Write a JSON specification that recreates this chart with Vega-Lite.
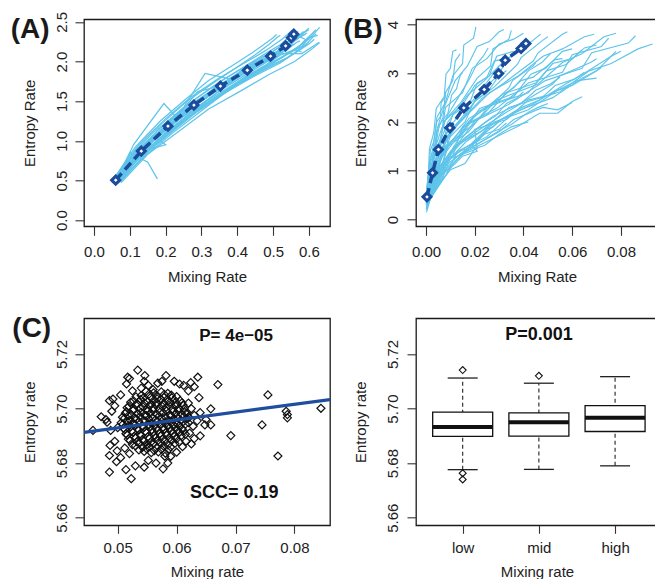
{
"$schema": "https://vega.github.io/schema/vega-lite/v6.json",
"padding": {"left": 10, "top": 10.3, "right": 0, "bottom": 0},
"config": {
 "font": "Liberation Sans",
 "view": {"stroke": "#1a1a1a", "strokeWidth": 1.3},
 "axis": {"domain": false, "grid": false, "tickSize": 9, "tickWidth": 1.1, "tickColor": "#333", "labelFontSize": 15, "labelColor": "#222", "labelPadding": 9, "labelOverlap": false, "labelFlush": false, "titleFontSize": 15, "titleFontWeight": "normal", "titleColor": "#222"},
 "axisX": {"labelAngle": 0, "labelBaseline": "top", "labelPadding": 9.4, "minExtent": 33, "maxExtent": 33, "titlePadding": 9.9},
 "axisY": {"labelAngle": -90, "labelAlign": "center", "labelBaseline": "alphabetic", "minExtent": 40, "maxExtent": 40, "titlePadding": 7}
},
"datasets": {
 "aLines": [
  {"l":1,"x":0.06,"y":0.48},{"l":1,"x":0.13,"y":0.88},{"l":1,"x":0.21,"y":1.20},{"l":1,"x":0.28,"y":1.44},{"l":1,"x":0.36,"y":1.70},{"l":1,"x":0.43,"y":1.88},{"l":1,"x":0.50,"y":2.08},{"l":1,"x":0.55,"y":2.22},{"l":1,"x":0.57,"y":2.31},{"l":1,"x":0.58,"y":2.36},
  {"l":2,"x":0.07,"y":0.52},{"l":2,"x":0.145,"y":0.86},{"l":2,"x":0.23,"y":1.17},{"l":2,"x":0.31,"y":1.46},{"l":2,"x":0.39,"y":1.68},{"l":2,"x":0.47,"y":1.90},{"l":2,"x":0.54,"y":2.05},{"l":2,"x":0.59,"y":2.20},{"l":2,"x":0.61,"y":2.30},{"l":2,"x":0.62,"y":2.35},
  {"l":3,"x":0.055,"y":0.50},{"l":3,"x":0.12,"y":0.90},{"l":3,"x":0.19,"y":1.22},{"l":3,"x":0.26,"y":1.50},{"l":3,"x":0.33,"y":1.72},{"l":3,"x":0.40,"y":1.93},{"l":3,"x":0.455,"y":2.10},{"l":3,"x":0.49,"y":2.22},{"l":3,"x":0.51,"y":2.30},{"l":3,"x":0.52,"y":2.33},
  {"l":4,"x":0.065,"y":0.46},{"l":4,"x":0.14,"y":0.80},{"l":4,"x":0.22,"y":1.10},{"l":4,"x":0.30,"y":1.38},{"l":4,"x":0.37,"y":1.62},{"l":4,"x":0.45,"y":1.82},{"l":4,"x":0.52,"y":1.98},{"l":4,"x":0.565,"y":2.12},{"l":4,"x":0.585,"y":2.20},{"l":4,"x":0.60,"y":2.25},
  {"l":5,"x":0.06,"y":0.55},{"l":5,"x":0.125,"y":0.95},{"l":5,"x":0.20,"y":1.28},{"l":5,"x":0.27,"y":1.55},{"l":5,"x":0.345,"y":1.78},{"l":5,"x":0.42,"y":1.98},{"l":5,"x":0.48,"y":2.14},{"l":5,"x":0.525,"y":2.28},{"l":5,"x":0.545,"y":2.36},{"l":5,"x":0.555,"y":2.40},
  {"l":6,"x":0.06,"y":0.50},{"l":6,"x":0.10,"y":0.85},{"l":6,"x":0.15,"y":0.73},{"l":6,"x":0.177,"y":0.52},
  {"l":7,"x":0.075,"y":0.47},{"l":7,"x":0.15,"y":0.83},{"l":7,"x":0.24,"y":1.13},{"l":7,"x":0.32,"y":1.40},{"l":7,"x":0.41,"y":1.63},{"l":7,"x":0.49,"y":1.84},{"l":7,"x":0.56,"y":2.00},{"l":7,"x":0.60,"y":2.13},{"l":7,"x":0.62,"y":2.20},{"l":7,"x":0.63,"y":2.24},
  {"l":8,"x":0.07,"y":0.53},{"l":8,"x":0.15,"y":0.90},{"l":8,"x":0.235,"y":1.22},{"l":8,"x":0.315,"y":1.50},{"l":8,"x":0.40,"y":1.74},{"l":8,"x":0.48,"y":1.95},{"l":8,"x":0.55,"y":2.12},{"l":8,"x":0.60,"y":2.28},{"l":8,"x":0.62,"y":2.38},{"l":8,"x":0.63,"y":2.43},
  {"l":9,"x":0.06,"y":0.47},{"l":9,"x":0.125,"y":0.84},{"l":9,"x":0.195,"y":1.13},{"l":9,"x":0.265,"y":1.40},{"l":9,"x":0.34,"y":1.62},{"l":9,"x":0.41,"y":1.83},{"l":9,"x":0.47,"y":2.00},{"l":9,"x":0.51,"y":2.12},{"l":9,"x":0.53,"y":2.20},{"l":9,"x":0.535,"y":2.24},
  {"l":10,"x":0.065,"y":0.50},{"l":10,"x":0.11,"y":0.95},{"l":10,"x":0.195,"y":1.47},{"l":10,"x":0.23,"y":1.30},{"l":10,"x":0.29,"y":1.62},{"l":10,"x":0.36,"y":1.70},{"l":10,"x":0.43,"y":1.95},{"l":10,"x":0.50,"y":2.02},{"l":10,"x":0.57,"y":2.32},{"l":10,"x":0.59,"y":2.28},
  {"l":11,"x":0.06,"y":0.49},{"l":11,"x":0.13,"y":0.86},{"l":11,"x":0.20,"y":0.95},{"l":11,"x":0.17,"y":1.05},{"l":11,"x":0.28,"y":1.40},{"l":11,"x":0.36,"y":1.66},{"l":11,"x":0.44,"y":1.92},{"l":11,"x":0.51,"y":2.10},{"l":11,"x":0.58,"y":2.10},{"l":11,"x":0.628,"y":2.24},
  {"l":12,"x":0.07,"y":0.51},{"l":12,"x":0.135,"y":0.88},{"l":12,"x":0.21,"y":1.16},{"l":12,"x":0.29,"y":1.47},{"l":12,"x":0.365,"y":1.70},{"l":12,"x":0.44,"y":1.92},{"l":12,"x":0.51,"y":2.09},{"l":12,"x":0.555,"y":2.25},{"l":12,"x":0.575,"y":2.33},{"l":12,"x":0.585,"y":2.38},
  {"l":13,"x":0.055,"y":0.52},{"l":13,"x":0.115,"y":0.92},{"l":13,"x":0.185,"y":1.25},{"l":13,"x":0.255,"y":1.52},{"l":13,"x":0.32,"y":1.76},{"l":13,"x":0.39,"y":1.96},{"l":13,"x":0.445,"y":2.12},{"l":13,"x":0.485,"y":2.25},{"l":13,"x":0.50,"y":2.30},{"l":13,"x":0.51,"y":2.34},
  {"l":14,"x":0.065,"y":0.49},{"l":14,"x":0.14,"y":0.85},{"l":14,"x":0.22,"y":1.15},{"l":14,"x":0.30,"y":1.43},{"l":14,"x":0.38,"y":1.66},{"l":14,"x":0.455,"y":1.88},{"l":14,"x":0.525,"y":2.05},{"l":14,"x":0.57,"y":2.18},{"l":14,"x":0.59,"y":2.27},{"l":14,"x":0.61,"y":2.32},
  {"l":15,"x":0.06,"y":0.50},{"l":15,"x":0.13,"y":0.87},{"l":15,"x":0.205,"y":1.19},{"l":15,"x":0.285,"y":1.46},{"l":15,"x":0.36,"y":1.69},{"l":15,"x":0.435,"y":1.90},{"l":15,"x":0.50,"y":2.07},{"l":15,"x":0.545,"y":2.21},{"l":15,"x":0.565,"y":2.28},{"l":15,"x":0.60,"y":2.42},
  {"l":16,"x":0.065,"y":0.48},{"l":16,"x":0.12,"y":0.78},{"l":16,"x":0.20,"y":1.10},{"l":16,"x":0.27,"y":1.35},{"l":16,"x":0.35,"y":1.58},{"l":16,"x":0.42,"y":1.80},{"l":16,"x":0.48,"y":1.96},{"l":16,"x":0.52,"y":2.08},{"l":16,"x":0.56,"y":2.15},{"l":16,"x":0.58,"y":2.12},
  {"l":17,"x":0.05,"y":0.47},{"l":17,"x":0.12,"y":0.82},{"l":17,"x":0.18,"y":1.15},{"l":17,"x":0.25,"y":1.42},{"l":17,"x":0.31,"y":1.85},{"l":17,"x":0.38,"y":1.78},{"l":17,"x":0.44,"y":1.98},{"l":17,"x":0.49,"y":2.05},{"l":17,"x":0.53,"y":2.18},{"l":17,"x":0.56,"y":2.22},
  {"l":18,"x":0.065,"y":0.52},{"l":18,"x":0.135,"y":0.92},{"l":18,"x":0.215,"y":1.22},{"l":18,"x":0.295,"y":1.52},{"l":18,"x":0.375,"y":1.75},{"l":18,"x":0.45,"y":1.97},{"l":18,"x":0.52,"y":2.15},{"l":18,"x":0.565,"y":2.29},{"l":18,"x":0.585,"y":2.36},{"l":18,"x":0.60,"y":2.40},
  {"l":19,"x":0.055,"y":0.46},{"l":19,"x":0.125,"y":0.83},{"l":19,"x":0.20,"y":1.14},{"l":19,"x":0.275,"y":1.42},{"l":19,"x":0.35,"y":1.66},{"l":19,"x":0.425,"y":1.86},{"l":19,"x":0.49,"y":2.03},{"l":19,"x":0.53,"y":2.16},{"l":19,"x":0.55,"y":2.25},{"l":19,"x":0.56,"y":2.28},
  {"l":20,"x":0.07,"y":0.50},{"l":20,"x":0.14,"y":0.89},{"l":20,"x":0.215,"y":1.21},{"l":20,"x":0.29,"y":1.49},{"l":20,"x":0.37,"y":1.72},{"l":20,"x":0.445,"y":1.93},{"l":20,"x":0.51,"y":2.10},{"l":20,"x":0.555,"y":2.24},{"l":20,"x":0.575,"y":2.31},{"l":20,"x":0.59,"y":2.34},
  {"l":21,"x":0.06,"y":0.53},{"l":21,"x":0.12,"y":0.88},{"l":21,"x":0.19,"y":1.18},{"l":21,"x":0.265,"y":1.47},{"l":21,"x":0.34,"y":1.71},{"l":21,"x":0.415,"y":1.92},{"l":21,"x":0.475,"y":2.09},{"l":21,"x":0.52,"y":2.21},{"l":21,"x":0.54,"y":2.29},{"l":21,"x":0.55,"y":2.32},
  {"l":22,"x":0.075,"y":0.49},{"l":22,"x":0.15,"y":0.86},{"l":22,"x":0.225,"y":1.16},{"l":22,"x":0.305,"y":1.44},{"l":22,"x":0.385,"y":1.68},{"l":22,"x":0.46,"y":1.89},{"l":22,"x":0.53,"y":2.07},{"l":22,"x":0.575,"y":2.20},{"l":22,"x":0.595,"y":2.29},{"l":22,"x":0.62,"y":2.40},
  {"l":23,"x":0.065,"y":0.47},{"l":23,"x":0.13,"y":0.82},{"l":23,"x":0.205,"y":1.12},{"l":23,"x":0.28,"y":1.39},{"l":23,"x":0.355,"y":1.64},{"l":23,"x":0.43,"y":1.85},{"l":23,"x":0.495,"y":2.03},{"l":23,"x":0.54,"y":2.15},{"l":23,"x":0.565,"y":2.24},{"l":23,"x":0.575,"y":2.26},
  {"l":24,"x":0.06,"y":0.51},{"l":24,"x":0.135,"y":0.90},{"l":24,"x":0.21,"y":1.24},{"l":24,"x":0.285,"y":1.53},{"l":24,"x":0.36,"y":1.77},{"l":24,"x":0.435,"y":1.97},{"l":24,"x":0.50,"y":2.13},{"l":24,"x":0.545,"y":2.26},{"l":24,"x":0.56,"y":2.33},{"l":24,"x":0.57,"y":2.38},
  {"l":25,"x":0.07,"y":0.48},{"l":25,"x":0.145,"y":0.84},{"l":25,"x":0.225,"y":1.14},{"l":25,"x":0.30,"y":1.41},{"l":25,"x":0.38,"y":1.64},{"l":25,"x":0.46,"y":1.86},{"l":25,"x":0.53,"y":2.02},{"l":25,"x":0.58,"y":2.16},{"l":25,"x":0.60,"y":2.22},{"l":25,"x":0.615,"y":2.28},
  {"l":26,"x":0.055,"y":0.49},{"l":26,"x":0.12,"y":0.86},{"l":26,"x":0.195,"y":1.17},{"l":26,"x":0.27,"y":1.45},{"l":26,"x":0.345,"y":1.69},{"l":26,"x":0.415,"y":1.89},{"l":26,"x":0.48,"y":2.07},{"l":26,"x":0.52,"y":2.19},{"l":26,"x":0.535,"y":2.27},{"l":26,"x":0.545,"y":2.30},
  {"l":27,"x":0.065,"y":0.52},{"l":27,"x":0.13,"y":0.91},{"l":27,"x":0.21,"y":1.20},{"l":27,"x":0.285,"y":1.50},{"l":27,"x":0.365,"y":1.73},{"l":27,"x":0.44,"y":1.94},{"l":27,"x":0.505,"y":2.11},{"l":27,"x":0.55,"y":2.23},{"l":27,"x":0.57,"y":2.30},{"l":27,"x":0.595,"y":2.36},
  {"l":28,"x":0.07,"y":0.49},{"l":28,"x":0.14,"y":0.86},{"l":28,"x":0.23,"y":1.20},{"l":28,"x":0.31,"y":1.43},{"l":28,"x":0.39,"y":1.70},{"l":28,"x":0.465,"y":1.88},{"l":28,"x":0.535,"y":2.08},{"l":28,"x":0.58,"y":2.19},{"l":28,"x":0.60,"y":2.30},{"l":28,"x":0.625,"y":2.33}
 ],
 "aMean": [
  {"x":0.0605,"y":0.504},{"x":0.132,"y":0.87},{"x":0.2065,"y":1.185},{"x":0.279,"y":1.45},{"x":0.353,"y":1.69},{"x":0.428,"y":1.89},{"x":0.493,"y":2.067},{"x":0.535,"y":2.197},{"x":0.551,"y":2.30},{"x":0.558,"y":2.345}
 ],
 "bLines": [
  {"l":1,"x":0.0004,"y":0.47},{"l":1,"x":0.0031,"y":1.02},{"l":1,"x":0.0050,"y":1.42},{"l":1,"x":0.0102,"y":1.93},{"l":1,"x":0.0150,"y":2.22},{"l":1,"x":0.0245,"y":2.72},{"l":1,"x":0.0295,"y":2.95},{"l":1,"x":0.0335,"y":3.30},{"l":1,"x":0.0385,"y":3.48},{"l":1,"x":0.0415,"y":3.66},
  {"l":2,"x":0.0006,"y":0.40},{"l":2,"x":0.0045,"y":0.90},{"l":2,"x":0.0070,"y":1.46},{"l":2,"x":0.0150,"y":1.75},{"l":2,"x":0.0220,"y":2.28},{"l":2,"x":0.0360,"y":2.52},{"l":2,"x":0.0430,"y":2.98},{"l":2,"x":0.0490,"y":3.10},{"l":2,"x":0.0560,"y":3.45},{"l":2,"x":0.0600,"y":3.50},
  {"l":3,"x":0.0008,"y":0.52},{"l":3,"x":0.0050,"y":1.05},{"l":3,"x":0.0105,"y":1.42},{"l":3,"x":0.0175,"y":1.98},{"l":3,"x":0.0290,"y":2.28},{"l":3,"x":0.0420,"y":2.80},{"l":3,"x":0.0560,"y":3.02},{"l":3,"x":0.0600,"y":3.38},{"l":3,"x":0.0720,"y":3.55},{"l":3,"x":0.0750,"y":3.72},
  {"l":4,"x":0.0003,"y":0.38},{"l":4,"x":0.0025,"y":0.85},{"l":4,"x":0.0036,"y":1.38},{"l":4,"x":0.0078,"y":1.68},{"l":4,"x":0.0110,"y":2.15},{"l":4,"x":0.0180,"y":2.40},{"l":4,"x":0.0210,"y":2.80},{"l":4,"x":0.0250,"y":2.92},{"l":4,"x":0.0280,"y":3.25},{"l":4,"x":0.0305,"y":3.28},
  {"l":5,"x":0.0002,"y":0.55},{"l":5,"x":0.0012,"y":1.10},{"l":5,"x":0.0030,"y":1.50},{"l":5,"x":0.0045,"y":2.10},{"l":5,"x":0.0080,"y":2.40},{"l":5,"x":0.0110,"y":2.95},{"l":5,"x":0.0150,"y":3.20},{"l":5,"x":0.0155,"y":3.58},{"l":5,"x":0.0195,"y":3.72},{"l":5,"x":0.0205,"y":3.95},
  {"l":6,"x":0.0005,"y":0.28},{"l":6,"x":0.0040,"y":0.70},{"l":6,"x":0.0060,"y":0.92},{"l":6,"x":0.0130,"y":1.30},{"l":6,"x":0.0180,"y":1.45},{"l":6,"x":0.0300,"y":1.82},{"l":6,"x":0.0350,"y":1.95},{"l":6,"x":0.0420,"y":2.20},{"l":6,"x":0.0460,"y":2.30},{"l":6,"x":0.0500,"y":2.38},
  {"l":7,"x":0.0006,"y":0.30},{"l":7,"x":0.0050,"y":0.72},{"l":7,"x":0.0080,"y":1.00},{"l":7,"x":0.0160,"y":1.38},{"l":7,"x":0.0230,"y":1.55},{"l":7,"x":0.0380,"y":1.92},{"l":7,"x":0.0466,"y":2.18},{"l":7,"x":0.0540,"y":2.18},{"l":7,"x":0.0600,"y":2.42},{"l":7,"x":0.0641,"y":2.52},
  {"l":8,"x":0.0009,"y":0.45},{"l":8,"x":0.0070,"y":0.95},{"l":8,"x":0.0115,"y":1.50},{"l":8,"x":0.0230,"y":1.82},{"l":8,"x":0.0340,"y":2.30},{"l":8,"x":0.0550,"y":2.62},{"l":8,"x":0.0670,"y":3.05},{"l":8,"x":0.0760,"y":3.20},{"l":8,"x":0.0870,"y":3.50},{"l":8,"x":0.0930,"y":3.60},
  {"l":9,"x":0.0009,"y":0.50},{"l":9,"x":0.0055,"y":1.08},{"l":9,"x":0.0120,"y":1.48},{"l":9,"x":0.0200,"y":2.02},{"l":9,"x":0.0335,"y":2.35},{"l":9,"x":0.0490,"y":2.85},{"l":9,"x":0.0640,"y":3.10},{"l":9,"x":0.0680,"y":3.42},{"l":9,"x":0.0830,"y":3.62},{"l":9,"x":0.0860,"y":3.77},
  {"l":10,"x":0.0008,"y":0.48},{"l":10,"x":0.0060,"y":1.00},{"l":10,"x":0.0095,"y":1.58},{"l":10,"x":0.0195,"y":1.95},{"l":10,"x":0.0290,"y":2.45},{"l":10,"x":0.0460,"y":2.78},{"l":10,"x":0.0560,"y":3.22},{"l":10,"x":0.0640,"y":3.40},{"l":10,"x":0.0730,"y":3.75},{"l":10,"x":0.0780,"y":3.82},
  {"l":11,"x":0.0003,"y":0.44},{"l":11,"x":0.0020,"y":0.98},{"l":11,"x":0.0030,"y":1.35},{"l":11,"x":0.0065,"y":1.88},{"l":11,"x":0.0090,"y":2.15},{"l":11,"x":0.0150,"y":2.65},{"l":11,"x":0.0175,"y":2.85},{"l":11,"x":0.0210,"y":3.20},{"l":11,"x":0.0235,"y":3.35},{"l":11,"x":0.0255,"y":3.52},
  {"l":12,"x":0.0005,"y":0.40},{"l":12,"x":0.0030,"y":0.82},{"l":12,"x":0.0064,"y":1.30},{"l":12,"x":0.0105,"y":1.60},{"l":12,"x":0.0178,"y":2.08},{"l":12,"x":0.0255,"y":2.30},{"l":12,"x":0.0340,"y":2.70},{"l":12,"x":0.0355,"y":2.85},{"l":12,"x":0.0440,"y":3.15},{"l":12,"x":0.0450,"y":3.22},
  {"l":13,"x":0.0006,"y":0.36},{"l":13,"x":0.0042,"y":0.80},{"l":13,"x":0.0068,"y":1.12},{"l":13,"x":0.0140,"y":1.55},{"l":13,"x":0.0200,"y":1.78},{"l":13,"x":0.0330,"y":2.20},{"l":13,"x":0.0390,"y":2.38},{"l":13,"x":0.0450,"y":2.65},{"l":13,"x":0.0510,"y":2.78},{"l":13,"x":0.0550,"y":2.92},
  {"l":14,"x":0.0007,"y":0.45},{"l":14,"x":0.0045,"y":0.85},{"l":14,"x":0.0098,"y":1.35},{"l":14,"x":0.0160,"y":1.68},{"l":14,"x":0.0275,"y":2.12},{"l":14,"x":0.0395,"y":2.40},{"l":14,"x":0.0520,"y":2.78},{"l":14,"x":0.0550,"y":2.95},{"l":14,"x":0.0675,"y":3.22},{"l":14,"x":0.0700,"y":3.30},
  {"l":15,"x":0.0002,"y":0.40},{"l":15,"x":0.0012,"y":0.78},{"l":15,"x":0.0018,"y":1.25},{"l":15,"x":0.0040,"y":1.52},{"l":15,"x":0.0055,"y":1.95},{"l":15,"x":0.0090,"y":2.18},{"l":15,"x":0.0105,"y":2.55},{"l":15,"x":0.0125,"y":2.68},{"l":15,"x":0.0140,"y":2.95},{"l":15,"x":0.0150,"y":3.02},
  {"l":16,"x":0.0004,"y":0.52},{"l":16,"x":0.0022,"y":1.08},{"l":16,"x":0.0050,"y":1.50},{"l":16,"x":0.0080,"y":2.05},{"l":16,"x":0.0140,"y":2.38},{"l":16,"x":0.0210,"y":2.90},{"l":16,"x":0.0265,"y":3.15},{"l":16,"x":0.0275,"y":3.50},{"l":16,"x":0.0340,"y":3.70},{"l":16,"x":0.0350,"y":3.88},
  {"l":17,"x":0.0007,"y":0.37},{"l":17,"x":0.0050,"y":0.84},{"l":17,"x":0.0080,"y":1.15},{"l":17,"x":0.0165,"y":1.60},{"l":17,"x":0.0240,"y":1.85},{"l":17,"x":0.0385,"y":2.28},{"l":17,"x":0.0465,"y":2.45},{"l":17,"x":0.0530,"y":2.75},{"l":17,"x":0.0610,"y":2.88},{"l":17,"x":0.0650,"y":3.02},
  {"l":18,"x":0.0004,"y":0.32},{"l":18,"x":0.0030,"y":0.72},{"l":18,"x":0.0048,"y":1.00},{"l":18,"x":0.0100,"y":1.40},{"l":18,"x":0.0145,"y":1.60},{"l":18,"x":0.0240,"y":1.98},{"l":18,"x":0.0285,"y":2.12},{"l":18,"x":0.0330,"y":2.38},{"l":18,"x":0.0370,"y":2.48},{"l":18,"x":0.0400,"y":2.62},
  {"l":19,"x":0.0001,"y":0.30},{"l":19,"x":0.0006,"y":0.75},{"l":19,"x":0.0012,"y":1.00},{"l":19,"x":0.0018,"y":1.42},{"l":19,"x":0.0032,"y":1.60},{"l":19,"x":0.0044,"y":2.00},{"l":19,"x":0.0060,"y":2.12},{"l":19,"x":0.0062,"y":2.40},{"l":19,"x":0.0078,"y":2.50},{"l":19,"x":0.0080,"y":2.62},
  {"l":20,"x":0.0005,"y":0.50},{"l":20,"x":0.0030,"y":0.98},{"l":20,"x":0.0072,"y":1.55},{"l":20,"x":0.0115,"y":1.90},{"l":20,"x":0.0200,"y":2.42},{"l":20,"x":0.0280,"y":2.72},{"l":20,"x":0.0375,"y":3.18},{"l":20,"x":0.0390,"y":3.32},{"l":20,"x":0.0480,"y":3.68},{"l":20,"x":0.0500,"y":3.75},
  {"l":21,"x":0.0003,"y":0.22},{"l":21,"x":0.0025,"y":0.58},{"l":21,"x":0.0036,"y":0.75},{"l":21,"x":0.0080,"y":1.10},{"l":21,"x":0.0105,"y":1.20},{"l":21,"x":0.0185,"y":1.52},{"l":21,"x":0.0210,"y":1.60},{"l":21,"x":0.0250,"y":1.85},{"l":21,"x":0.0275,"y":1.90},{"l":21,"x":0.0300,"y":2.02},
  {"l":22,"x":0.0006,"y":0.52},{"l":22,"x":0.0036,"y":1.00},{"l":22,"x":0.0082,"y":1.60},{"l":22,"x":0.0130,"y":1.95},{"l":22,"x":0.0228,"y":2.48},{"l":22,"x":0.0320,"y":2.80},{"l":22,"x":0.0440,"y":3.25},{"l":22,"x":0.0460,"y":3.42},{"l":22,"x":0.0560,"y":3.80},{"l":22,"x":0.0580,"y":3.85},
  {"l":23,"x":0.0007,"y":0.46},{"l":23,"x":0.0055,"y":0.92},{"l":23,"x":0.0085,"y":1.48},{"l":23,"x":0.0175,"y":1.80},{"l":23,"x":0.0255,"y":2.32},{"l":23,"x":0.0420,"y":2.60},{"l":23,"x":0.0495,"y":3.05},{"l":23,"x":0.0575,"y":3.18},{"l":23,"x":0.0650,"y":3.52},{"l":23,"x":0.0700,"y":3.58},
  {"l":24,"x":0.0001,"y":0.48},{"l":24,"x":0.0010,"y":0.92},{"l":24,"x":0.0014,"y":1.45},{"l":24,"x":0.0032,"y":1.78},{"l":24,"x":0.0042,"y":2.28},{"l":24,"x":0.0075,"y":2.52},{"l":24,"x":0.0082,"y":2.98},{"l":24,"x":0.0100,"y":3.10},{"l":24,"x":0.0110,"y":3.45},{"l":24,"x":0.0125,"y":3.48},
  {"l":25,"x":0.0002,"y":0.15},{"l":25,"x":0.0020,"y":0.45},{"l":25,"x":0.0050,"y":0.70},{"l":25,"x":0.0100,"y":1.02},{"l":25,"x":0.0160,"y":1.15},{"l":25,"x":0.0200,"y":1.45},{"l":25,"x":0.0240,"y":1.52},{"l":25,"x":0.0300,"y":1.75},{"l":25,"x":0.0350,"y":1.90},{"l":25,"x":0.0420,"y":2.00},
  {"l":26,"x":0.0003,"y":0.25},{"l":26,"x":0.0015,"y":0.60},{"l":26,"x":0.0030,"y":0.95},{"l":26,"x":0.0060,"y":1.20},{"l":26,"x":0.0100,"y":1.70},{"l":26,"x":0.0160,"y":2.00},{"l":26,"x":0.0200,"y":2.45},{"l":26,"x":0.0250,"y":2.60},{"l":26,"x":0.0300,"y":2.95},{"l":26,"x":0.0330,"y":3.05},
  {"l":27,"x":0.0005,"y":0.42},{"l":27,"x":0.0040,"y":0.92},{"l":27,"x":0.0060,"y":1.25},{"l":27,"x":0.0135,"y":1.72},{"l":27,"x":0.0185,"y":2.05},{"l":27,"x":0.0310,"y":2.55},{"l":27,"x":0.0360,"y":2.70},{"l":27,"x":0.0420,"y":3.05},{"l":27,"x":0.0475,"y":3.22},{"l":27,"x":0.0510,"y":3.40},
  {"l":28,"x":0.0002,"y":0.35},{"l":28,"x":0.0018,"y":0.70},{"l":28,"x":0.0040,"y":1.18},{"l":28,"x":0.0060,"y":1.40},{"l":28,"x":0.0120,"y":1.92},{"l":28,"x":0.0155,"y":2.10},{"l":28,"x":0.0230,"y":2.62},{"l":28,"x":0.0240,"y":2.75},{"l":28,"x":0.0290,"y":3.08},{"l":28,"x":0.0300,"y":3.15},
  {"l":29,"x":0.0002,"y":0.30},{"l":29,"x":0.0030,"y":0.95},{"l":29,"x":0.0025,"y":1.30},{"l":29,"x":0.0090,"y":1.55},{"l":29,"x":0.0070,"y":2.00},{"l":29,"x":0.0150,"y":2.35},{"l":29,"x":0.0200,"y":2.75},{"l":29,"x":0.0260,"y":2.95},{"l":29,"x":0.0290,"y":3.35},{"l":29,"x":0.0360,"y":3.45},
  {"l":30,"x":0.0005,"y":0.40},{"l":30,"x":0.0060,"y":0.75},{"l":30,"x":0.0100,"y":1.25},{"l":30,"x":0.0210,"y":1.45},{"l":30,"x":0.0200,"y":1.85},{"l":30,"x":0.0330,"y":2.05},{"l":30,"x":0.0420,"y":2.45},{"l":30,"x":0.0500,"y":2.55},{"l":30,"x":0.0620,"y":2.85},{"l":30,"x":0.0700,"y":2.90},
  {"l":31,"x":0.0003,"y":0.55},{"l":31,"x":0.0020,"y":1.20},{"l":31,"x":0.0060,"y":1.65},{"l":31,"x":0.0080,"y":2.30},{"l":31,"x":0.0150,"y":2.60},{"l":31,"x":0.0190,"y":3.10},{"l":31,"x":0.0250,"y":3.30},{"l":31,"x":0.0300,"y":3.60},{"l":31,"x":0.0360,"y":3.70},{"l":31,"x":0.0400,"y":3.82},
  {"l":32,"x":0.0008,"y":0.45},{"l":32,"x":0.0080,"y":0.90},{"l":32,"x":0.0130,"y":1.40},{"l":32,"x":0.0250,"y":1.70},{"l":32,"x":0.0360,"y":2.20},{"l":32,"x":0.0520,"y":2.50},{"l":32,"x":0.0640,"y":2.90},{"l":32,"x":0.0700,"y":3.05},{"l":32,"x":0.0770,"y":3.40},{"l":32,"x":0.0780,"y":3.45},
  {"l":33,"x":0.0004,"y":0.35},{"l":33,"x":0.0040,"y":0.75},{"l":33,"x":0.0060,"y":1.10},{"l":33,"x":0.0140,"y":1.40},{"l":33,"x":0.0200,"y":1.52},{"l":33,"x":0.0300,"y":1.80},{"l":33,"x":0.0360,"y":2.05},{"l":33,"x":0.0480,"y":2.30},{"l":33,"x":0.0540,"y":2.25},{"l":33,"x":0.0600,"y":2.40},
  {"l":34,"x":0.0006,"y":0.50},{"l":34,"x":0.0050,"y":1.10},{"l":34,"x":0.0085,"y":1.70},{"l":34,"x":0.0160,"y":2.10},{"l":34,"x":0.0260,"y":2.60},{"l":34,"x":0.0380,"y":2.95},{"l":34,"x":0.0480,"y":3.35},{"l":34,"x":0.0560,"y":3.50},{"l":34,"x":0.0650,"y":3.75},{"l":34,"x":0.0690,"y":3.80},
  {"l":35,"x":0.0003,"y":0.30},{"l":35,"x":0.0030,"y":0.62},{"l":35,"x":0.0050,"y":0.85},{"l":35,"x":0.0120,"y":1.15},{"l":35,"x":0.0150,"y":1.30},{"l":35,"x":0.0210,"y":1.40},{"l":35,"x":0.0190,"y":1.52},{"l":35,"x":0.0240,"y":1.75},{"l":35,"x":0.0300,"y":1.85},{"l":35,"x":0.0330,"y":1.98},
  {"l":36,"x":0.0007,"y":0.42},{"l":36,"x":0.0045,"y":0.95},{"l":36,"x":0.0110,"y":1.30},{"l":36,"x":0.0150,"y":1.90},{"l":36,"x":0.0250,"y":2.15},{"l":36,"x":0.0330,"y":2.60},{"l":36,"x":0.0450,"y":2.80},{"l":36,"x":0.0520,"y":3.20},{"l":36,"x":0.0600,"y":3.30},{"l":36,"x":0.0640,"y":3.48},
  {"l":37,"x":0.0001,"y":0.20},{"l":37,"x":0.0010,"y":0.55},{"l":37,"x":0.0015,"y":0.95},{"l":37,"x":0.0030,"y":1.25},{"l":37,"x":0.0045,"y":1.80},{"l":37,"x":0.0070,"y":2.10},{"l":37,"x":0.0080,"y":2.60},{"l":37,"x":0.0110,"y":2.85},{"l":37,"x":0.0120,"y":3.25},{"l":37,"x":0.0140,"y":3.40},
  {"l":38,"x":0.0005,"y":0.45},{"l":38,"x":0.0040,"y":0.88},{"l":38,"x":0.0075,"y":1.45},{"l":38,"x":0.0130,"y":1.75},{"l":38,"x":0.0210,"y":2.20},{"l":38,"x":0.0300,"y":2.45},{"l":38,"x":0.0390,"y":2.85},{"l":38,"x":0.0440,"y":2.92},{"l":38,"x":0.0530,"y":3.28},{"l":38,"x":0.0560,"y":3.30},
  {"l":39,"x":0.0004,"y":0.60},{"l":39,"x":0.0025,"y":1.15},{"l":39,"x":0.0045,"y":1.85},{"l":39,"x":0.0070,"y":2.25},{"l":39,"x":0.0120,"y":2.85},{"l":39,"x":0.0170,"y":3.15},{"l":39,"x":0.0210,"y":3.55},{"l":39,"x":0.0260,"y":3.65},{"l":39,"x":0.0300,"y":3.85},{"l":39,"x":0.0320,"y":3.90},
  {"l":40,"x":0.0006,"y":0.38},{"l":40,"x":0.0055,"y":0.80},{"l":40,"x":0.0090,"y":1.25},{"l":40,"x":0.0185,"y":1.55},{"l":40,"x":0.0280,"y":2.00},{"l":40,"x":0.0420,"y":2.25},{"l":40,"x":0.0540,"y":2.65},{"l":40,"x":0.0600,"y":2.75},{"l":40,"x":0.0700,"y":3.05},{"l":40,"x":0.0720,"y":3.12},
  {"l":41,"x":0.0003,"y":0.50},{"l":41,"x":0.0028,"y":1.00},{"l":41,"x":0.0058,"y":1.60},{"l":41,"x":0.0090,"y":2.00},{"l":41,"x":0.0170,"y":2.55},{"l":41,"x":0.0240,"y":2.85},{"l":41,"x":0.0330,"y":3.30},{"l":41,"x":0.0370,"y":3.40},{"l":41,"x":0.0450,"y":3.72},{"l":41,"x":0.0470,"y":3.80},
  {"l":42,"x":0.0008,"y":0.35},{"l":42,"x":0.0065,"y":0.78},{"l":42,"x":0.0120,"y":1.20},{"l":42,"x":0.0200,"y":1.60},{"l":42,"x":0.0310,"y":2.05},{"l":42,"x":0.0450,"y":2.40},{"l":42,"x":0.0580,"y":2.80},{"l":42,"x":0.0650,"y":3.00},{"l":42,"x":0.0760,"y":3.35},{"l":42,"x":0.0800,"y":3.45}
 ],
 "bMean": [
  {"x":0.0004,"y":0.465},{"x":0.0027,"y":0.957},{"x":0.0051,"y":1.436},{"x":0.0098,"y":1.88},{"x":0.0155,"y":2.29},{"x":0.0239,"y":2.667},{"x":0.0298,"y":2.995},{"x":0.0325,"y":3.268},{"x":0.039,"y":3.508},{"x":0.041,"y":3.61}
 ],
 "cPts": [
  {"x":0.0548,"y":5.7063},{"x":0.0561,"y":5.7058},{"x":0.0574,"y":5.7061},{"x":0.0585,"y":5.7056},
  {"x":0.0540,"y":5.7048},{"x":0.0553,"y":5.7053},{"x":0.0566,"y":5.7046},{"x":0.0579,"y":5.7052},{"x":0.0591,"y":5.7049},
  {"x":0.0531,"y":5.7043},{"x":0.0543,"y":5.7038},{"x":0.0556,"y":5.7041},{"x":0.0567,"y":5.7036},{"x":0.0579,"y":5.7042},{"x":0.0592,"y":5.7039},{"x":0.0600,"y":5.7044},
  {"x":0.0527,"y":5.7028},{"x":0.0539,"y":5.7033},{"x":0.0551,"y":5.7026},{"x":0.0562,"y":5.7031},{"x":0.0573,"y":5.7034},{"x":0.0585,"y":5.7027},{"x":0.0596,"y":5.7032},{"x":0.0606,"y":5.7029},
  {"x":0.0522,"y":5.7023},{"x":0.0533,"y":5.7018},{"x":0.0545,"y":5.7021},{"x":0.0557,"y":5.7016},{"x":0.0566,"y":5.7022},{"x":0.0578,"y":5.7019},{"x":0.0589,"y":5.7024},{"x":0.0601,"y":5.7017},{"x":0.0609,"y":5.7021},
  {"x":0.0519,"y":5.7008},{"x":0.0531,"y":5.7013},{"x":0.0543,"y":5.7006},{"x":0.0554,"y":5.7011},{"x":0.0565,"y":5.7014},{"x":0.0576,"y":5.7007},{"x":0.0587,"y":5.7012},{"x":0.0598,"y":5.7009},{"x":0.0611,"y":5.7013},
  {"x":0.0516,"y":5.7003},{"x":0.0527,"y":5.6998},{"x":0.0538,"y":5.7001},{"x":0.0549,"y":5.6996},{"x":0.0561,"y":5.7002},{"x":0.0570,"y":5.6999},{"x":0.0582,"y":5.7004},{"x":0.0593,"y":5.6997},{"x":0.0604,"y":5.7001},{"x":0.0613,"y":5.6998},
  {"x":0.0515,"y":5.6988},{"x":0.0526,"y":5.6993},{"x":0.0540,"y":5.6986},{"x":0.0551,"y":5.6991},{"x":0.0560,"y":5.6994},{"x":0.0572,"y":5.6987},{"x":0.0583,"y":5.6992},{"x":0.0594,"y":5.6989},{"x":0.0603,"y":5.6993},{"x":0.0614,"y":5.6986},
  {"x":0.0513,"y":5.6983},{"x":0.0523,"y":5.6978},{"x":0.0534,"y":5.6981},{"x":0.0546,"y":5.6976},{"x":0.0555,"y":5.6982},{"x":0.0566,"y":5.6979},{"x":0.0577,"y":5.6984},{"x":0.0588,"y":5.6977},{"x":0.0598,"y":5.6981},{"x":0.0609,"y":5.6978},{"x":0.0617,"y":5.6983},
  {"x":0.0508,"y":5.6968},{"x":0.0518,"y":5.6973},{"x":0.0528,"y":5.6966},{"x":0.0538,"y":5.6971},{"x":0.0549,"y":5.6974},{"x":0.0559,"y":5.6967},{"x":0.0570,"y":5.6972},{"x":0.0581,"y":5.6969},{"x":0.0591,"y":5.6973},{"x":0.0602,"y":5.6966},{"x":0.0612,"y":5.6971},{"x":0.0621,"y":5.6968},
  {"x":0.0511,"y":5.6963},{"x":0.0521,"y":5.6958},{"x":0.0532,"y":5.6961},{"x":0.0543,"y":5.6956},{"x":0.0553,"y":5.6962},{"x":0.0564,"y":5.6959},{"x":0.0575,"y":5.6964},{"x":0.0586,"y":5.6957},{"x":0.0596,"y":5.6961},{"x":0.0607,"y":5.6958},{"x":0.0618,"y":5.6963},
  {"x":0.0506,"y":5.6948},{"x":0.0516,"y":5.6953},{"x":0.0526,"y":5.6946},{"x":0.0536,"y":5.6951},{"x":0.0547,"y":5.6954},{"x":0.0557,"y":5.6947},{"x":0.0568,"y":5.6952},{"x":0.0579,"y":5.6949},{"x":0.0589,"y":5.6953},{"x":0.0600,"y":5.6946},{"x":0.0611,"y":5.6951},{"x":0.0620,"y":5.6948},
  {"x":0.0509,"y":5.6943},{"x":0.0519,"y":5.6938},{"x":0.0530,"y":5.6941},{"x":0.0541,"y":5.6936},{"x":0.0552,"y":5.6942},{"x":0.0562,"y":5.6939},{"x":0.0573,"y":5.6944},{"x":0.0584,"y":5.6937},{"x":0.0594,"y":5.6941},{"x":0.0605,"y":5.6938},{"x":0.0615,"y":5.6943},
  {"x":0.0510,"y":5.6928},{"x":0.0521,"y":5.6933},{"x":0.0533,"y":5.6926},{"x":0.0544,"y":5.6931},{"x":0.0555,"y":5.6934},{"x":0.0565,"y":5.6927},{"x":0.0577,"y":5.6932},{"x":0.0588,"y":5.6929},{"x":0.0598,"y":5.6933},{"x":0.0609,"y":5.6926},
  {"x":0.0512,"y":5.6923},{"x":0.0524,"y":5.6918},{"x":0.0536,"y":5.6921},{"x":0.0547,"y":5.6916},{"x":0.0558,"y":5.6922},{"x":0.0568,"y":5.6919},{"x":0.0579,"y":5.6924},{"x":0.0590,"y":5.6917},{"x":0.0601,"y":5.6921},{"x":0.0612,"y":5.6918},
  {"x":0.0514,"y":5.6908},{"x":0.0526,"y":5.6913},{"x":0.0538,"y":5.6906},{"x":0.0549,"y":5.6911},{"x":0.0560,"y":5.6914},{"x":0.0571,"y":5.6907},{"x":0.0582,"y":5.6912},{"x":0.0594,"y":5.6909},{"x":0.0605,"y":5.6913},{"x":0.0615,"y":5.6906},
  {"x":0.0516,"y":5.6903},{"x":0.0528,"y":5.6898},{"x":0.0539,"y":5.6901},{"x":0.0551,"y":5.6896},{"x":0.0562,"y":5.6902},{"x":0.0573,"y":5.6899},{"x":0.0584,"y":5.6904},{"x":0.0596,"y":5.6897},{"x":0.0608,"y":5.6901},
  {"x":0.0518,"y":5.6888},{"x":0.0531,"y":5.6893},{"x":0.0542,"y":5.6886},{"x":0.0554,"y":5.6891},{"x":0.0565,"y":5.6894},{"x":0.0576,"y":5.6887},{"x":0.0588,"y":5.6892},{"x":0.0600,"y":5.6889},
  {"x":0.0521,"y":5.6883},{"x":0.0533,"y":5.6878},{"x":0.0545,"y":5.6881},{"x":0.0556,"y":5.6876},{"x":0.0568,"y":5.6882},{"x":0.0580,"y":5.6879},{"x":0.0592,"y":5.6884},{"x":0.0604,"y":5.6877},
  {"x":0.0525,"y":5.6868},{"x":0.0537,"y":5.6873},{"x":0.0549,"y":5.6866},{"x":0.0561,"y":5.6871},{"x":0.0573,"y":5.6874},{"x":0.0585,"y":5.6867},{"x":0.0597,"y":5.6872},
  {"x":0.0530,"y":5.6863},{"x":0.0542,"y":5.6858},{"x":0.0554,"y":5.6861},{"x":0.0566,"y":5.6856},{"x":0.0578,"y":5.6862},{"x":0.0590,"y":5.6859},
  {"x":0.0536,"y":5.6848},{"x":0.0549,"y":5.6853},{"x":0.0562,"y":5.6846},{"x":0.0574,"y":5.6851},{"x":0.0586,"y":5.6849},
  {"x":0.0545,"y":5.6843},{"x":0.0557,"y":5.6838},{"x":0.0569,"y":5.6841},{"x":0.0581,"y":5.6836},
  {"x":0.0517,"y":5.7115},{"x":0.0520,"y":5.7110},{"x":0.0534,"y":5.7141},{"x":0.0546,"y":5.7121},{"x":0.0560,"y":5.7070},{"x":0.0568,"y":5.7093},{"x":0.0582,"y":5.7121},{"x":0.0596,"y":5.7100},{"x":0.0605,"y":5.7090},{"x":0.0612,"y":5.7085},{"x":0.0624,"y":5.7095},{"x":0.0636,"y":5.7115},{"x":0.0630,"y":5.7080},{"x":0.0620,"y":5.7065},{"x":0.0638,"y":5.7040},{"x":0.0552,"y":5.7085},{"x":0.0540,"y":5.7075},{"x":0.0525,"y":5.7065},{"x":0.0505,"y":5.7050},{"x":0.0492,"y":5.7035},{"x":0.0486,"y":5.7029},{"x":0.0515,"y":5.7090},{"x":0.0575,"y":5.7100},{"x":0.0545,"y":5.7100},
  {"x":0.0458,"y":5.6920},{"x":0.0472,"y":5.6970},{"x":0.0482,"y":5.6950},{"x":0.0490,"y":5.6990},{"x":0.0495,"y":5.7010},{"x":0.0488,"y":5.6920},{"x":0.0495,"y":5.6880},{"x":0.0487,"y":5.6865},{"x":0.0499,"y":5.6845},{"x":0.0486,"y":5.6828},{"x":0.0498,"y":5.6805},{"x":0.0486,"y":5.6767},{"x":0.0480,"y":5.6960},{"x":0.0500,"y":5.6930},
  {"x":0.0505,"y":5.6820},{"x":0.0514,"y":5.6776},{"x":0.0523,"y":5.6743},{"x":0.0530,"y":5.6790},{"x":0.0545,"y":5.6785},{"x":0.0552,"y":5.6810},{"x":0.0565,"y":5.6800},{"x":0.0577,"y":5.6779},{"x":0.0585,"y":5.6800},{"x":0.0590,"y":5.6825},{"x":0.0600,"y":5.6840},{"x":0.0610,"y":5.6860},{"x":0.0520,"y":5.6835},{"x":0.0512,"y":5.6855},{"x":0.0580,"y":5.6825},
  {"x":0.0625,"y":5.6870},{"x":0.0630,"y":5.6890},{"x":0.0622,"y":5.6910},{"x":0.0628,"y":5.6935},{"x":0.0635,"y":5.6955},{"x":0.0630,"y":5.6975},{"x":0.0625,"y":5.7000},{"x":0.0640,"y":5.6985},{"x":0.0620,"y":5.7020},{"x":0.0648,"y":5.6940},{"x":0.0658,"y":5.6940},{"x":0.0658,"y":5.6999},{"x":0.0650,"y":5.6960},{"x":0.0640,"y":5.6900},{"x":0.0616,"y":5.6880},
  {"x":0.0670,"y":5.7088},{"x":0.0692,"y":5.6901},{"x":0.0745,"y":5.6940},{"x":0.0755,"y":5.7050},{"x":0.0772,"y":5.6826},{"x":0.0786,"y":5.6990},{"x":0.0788,"y":5.6978},{"x":0.0788,"y":5.6966},{"x":0.0845,"y":5.7001}
 ],
 "cFit": [{"x":0.04428,"y":5.6913},{"x":0.08604,"y":5.7033}],
 "dBox": [
  {"cat":"low","lo":5.6776,"q1":5.6898,"med":5.6932,"q3":5.6987,"hi":5.7112},
  {"cat":"mid","lo":5.6777,"q1":5.6899,"med":5.6950,"q3":5.6984,"hi":5.7093},
  {"cat":"high","lo":5.6790,"q1":5.6916,"med":5.6966,"q3":5.7011,"hi":5.7117}
 ],
 "dOut": [
  {"cat":"low","y":5.7141},{"cat":"low","y":5.6763},{"cat":"low","y":5.6740},{"cat":"mid","y":5.7120}
 ]
},
"spacing": 29,
"vconcat": [
 {
  "spacing": 11,
  "hconcat": [
   {
    "width": 246, "height": 207,
    "layer": [
     {"data": {"name": "aLines"}, "mark": {"type": "line", "color": "#5ec4ea", "strokeWidth": 1.25, "clip": true},
      "encoding": {
       "x": {"field": "x", "type": "quantitative", "title": "Mixing Rate", "scale": {"domain": [-0.028, 0.659], "nice": false, "zero": false}, "axis": {"values": [0, 0.1, 0.2, 0.3, 0.4, 0.5, 0.6], "format": ".1f"}},
       "y": {"field": "y", "type": "quantitative", "title": "Entropy Rate", "scale": {"domain": [-0.078, 2.532], "nice": false, "zero": false}, "axis": {"values": [0, 0.5, 1, 1.5, 2, 2.5], "format": ".1f"}},
       "detail": {"field": "l", "type": "nominal"}, "order": {"value": null}}},
     {"data": {"name": "aMean"}, "mark": {"type": "line", "color": "#1b4b9b", "strokeWidth": 3.5, "strokeDash": [9, 5]},
      "encoding": {"x": {"field": "x", "type": "quantitative", "title": "Mixing Rate"}, "y": {"field": "y", "type": "quantitative", "title": "Entropy Rate"}, "order": {"value": null}}},
     {"data": {"name": "aMean"}, "mark": {"type": "point", "shape": "diamond", "size": 64, "filled": true, "fill": "white", "stroke": "#1b4b9b", "strokeWidth": 3, "opacity": 1},
      "encoding": {"x": {"field": "x", "type": "quantitative", "title": "Mixing Rate"}, "y": {"field": "y", "type": "quantitative", "title": "Entropy Rate"}}},
     {"data": {"values": [{}]}, "mark": {"type": "text", "text": "(A)", "fontSize": 28, "fontWeight": "bold", "color": "#1a1a1a", "align": "left", "baseline": "alphabetic"},
      "encoding": {"x": {"datum": -0.2327}, "y": {"datum": 2.301}}}
    ]
   },
   {
    "width": 242, "height": 207,
    "layer": [
     {"data": {"name": "bLines"}, "mark": {"type": "line", "color": "#5ec4ea", "strokeWidth": 1.15, "clip": true},
      "encoding": {
       "x": {"field": "x", "type": "quantitative", "title": "Mixing Rate", "scale": {"domain": [-0.0041, 0.0952], "nice": false, "zero": false}, "axis": {"values": [0, 0.02, 0.04, 0.06, 0.08], "format": ".2f"}},
       "y": {"field": "y", "type": "quantitative", "title": "Entropy Rate", "scale": {"domain": [-0.139, 4.107], "nice": false, "zero": false}, "axis": {"values": [0, 1, 2, 3, 4], "format": "d"}},
       "detail": {"field": "l", "type": "nominal"}, "order": {"value": null}}},
     {"data": {"name": "bMean"}, "mark": {"type": "line", "color": "#1b4b9b", "strokeWidth": 3.5, "strokeDash": [9, 5]},
      "encoding": {"x": {"field": "x", "type": "quantitative", "title": "Mixing Rate"}, "y": {"field": "y", "type": "quantitative", "title": "Entropy Rate"}, "order": {"value": null}}},
     {"data": {"name": "bMean"}, "mark": {"type": "point", "shape": "diamond", "size": 64, "filled": true, "fill": "white", "stroke": "#1b4b9b", "strokeWidth": 3, "opacity": 1},
      "encoding": {"x": {"field": "x", "type": "quantitative", "title": "Mixing Rate"}, "y": {"field": "y", "type": "quantitative", "title": "Entropy Rate"}}},
     {"data": {"values": [{}]}, "mark": {"type": "text", "text": "(B)", "fontSize": 28, "fontWeight": "bold", "color": "#1a1a1a", "align": "left", "baseline": "alphabetic"},
      "encoding": {"x": {"datum": -0.0338}, "y": {"datum": 3.732}}}
    ]
   }
  ]
 },
 {
  "spacing": 22,
  "hconcat": [
   {
    "width": 246, "height": 207,
    "layer": [
     {"data": {"name": "cPts"}, "mark": {"type": "point", "shape": "diamond", "size": 64, "filled": false, "color": "#111", "strokeWidth": 1.2, "opacity": 1},
      "encoding": {
       "x": {"field": "x", "type": "quantitative", "title": "Mixing rate", "scale": {"domain": [0.04428, 0.08604], "nice": false, "zero": false}, "axis": {"values": [0.05, 0.06, 0.07, 0.08], "format": ".2f", "tickSize": 8, "labelPadding": 7.5, "titlePadding": 6}},
       "y": {"field": "y", "type": "quantitative", "title": "Entropy rate", "scale": {"domain": [5.6572, 5.7331], "nice": false, "zero": false}, "axis": {"values": [5.66, 5.67, 5.68, 5.69, 5.70, 5.71, 5.72, 5.73], "labelExpr": "indexof(['5.66','5.68','5.70','5.72'], format(datum.value, '.2f')) >= 0 ? format(datum.value, '.2f') : ''"}}
      }},
     {"data": {"name": "cFit"}, "mark": {"type": "line", "color": "#1f4e9e", "strokeWidth": 3.2, "clip": true},
      "encoding": {"x": {"field": "x", "type": "quantitative", "title": "Mixing rate"}, "y": {"field": "y", "type": "quantitative", "title": "Entropy rate"}}},
     {"data": {"values": [{}]}, "mark": {"type": "text", "text": "P= 4e−05", "fontSize": 17, "fontWeight": "bold", "color": "#111", "baseline": "alphabetic", "align": "center"}, "encoding": {"x": {"datum": 0.0701}, "y": {"datum": 5.7249}}},
     {"data": {"values": [{}]}, "mark": {"type": "text", "text": "SCC= 0.19", "fontSize": 18, "fontWeight": "bold", "color": "#111", "baseline": "alphabetic", "align": "center"}, "encoding": {"x": {"datum": 0.0698}, "y": {"datum": 5.6673}}},
     {"data": {"values": [{}]}, "mark": {"type": "text", "text": "(C)", "fontSize": 28, "fontWeight": "bold", "color": "#1a1a1a", "align": "left", "baseline": "alphabetic"}, "encoding": {"x": {"datum": 0.03211}, "y": {"datum": 5.7262}}}
    ]
   },
   {
    "width": 242, "height": 207,
    "encoding": {
     "x": {"field": "cat", "type": "nominal", "title": "Mixing rate", "sort": ["low", "mid", "high"], "scale": {"type": "point", "domain": ["low", "mid", "high"], "padding": 0.588, "align": 0.521}, "axis": {"labelAngle": 0, "tickSize": 8, "labelPadding": 7.5, "titlePadding": 6}}
    },
    "layer": [
     {"data": {"name": "dBox"}, "mark": {"type": "rule", "strokeDash": [4, 3], "strokeWidth": 1.1, "color": "#222"}, "encoding": {"y": {"field": "lo", "type": "quantitative", "title": "Entropy rate", "scale": {"domain": [5.6572, 5.7331], "nice": false, "zero": false}, "axis": {"values": [5.66, 5.67, 5.68, 5.69, 5.70, 5.71, 5.72, 5.73], "labelExpr": "indexof(['5.66','5.68','5.70','5.72'], format(datum.value, '.2f')) >= 0 ? format(datum.value, '.2f') : ''"}}, "y2": {"field": "hi"}}},
     {"data": {"name": "dBox"}, "mark": {"type": "bar", "size": 60, "fill": "white", "stroke": "#111", "strokeWidth": 1.3, "opacity": 1}, "encoding": {"y": {"field": "q1", "type": "quantitative", "title": "Entropy rate"}, "y2": {"field": "q3"}}},
     {"data": {"name": "dBox"}, "mark": {"type": "tick", "size": 60, "thickness": 4, "color": "#111", "opacity": 1}, "encoding": {"y": {"field": "med", "type": "quantitative", "title": "Entropy rate"}}},
     {"data": {"name": "dBox"}, "mark": {"type": "tick", "size": 30, "thickness": 1.3, "color": "#222", "opacity": 1}, "encoding": {"y": {"field": "lo", "type": "quantitative", "title": "Entropy rate"}}},
     {"data": {"name": "dBox"}, "mark": {"type": "tick", "size": 30, "thickness": 1.3, "color": "#222", "opacity": 1}, "encoding": {"y": {"field": "hi", "type": "quantitative", "title": "Entropy rate"}}},
     {"data": {"name": "dOut"}, "mark": {"type": "point", "shape": "diamond", "size": 48, "filled": false, "color": "#111", "strokeWidth": 1.1, "opacity": 1}, "encoding": {"y": {"field": "y", "type": "quantitative", "title": "Entropy rate"}}},
     {"data": {"values": [{}]}, "mark": {"type": "text", "text": "P=0.001", "fontSize": 18, "fontWeight": "bold", "color": "#111", "baseline": "alphabetic", "align": "center"}, "encoding": {"x": {"datum": "mid"}, "y": {"datum": 5.7251}}}
    ]
   }
  ]
 }
]
}
